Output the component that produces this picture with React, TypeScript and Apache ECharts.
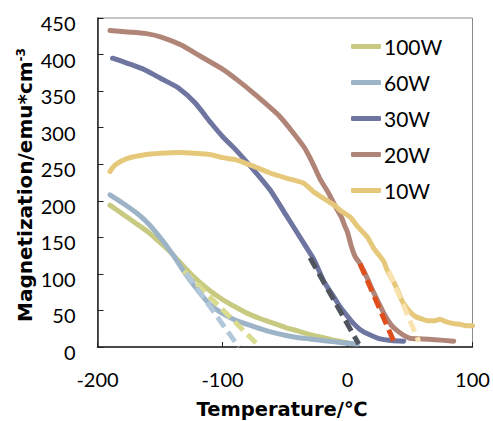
import React, { useEffect, useRef } from "react";
import * as echarts from "echarts";

const seriesNames = ["100W", "60W", "30W", "20W", "10W"];
const seriesColors = ["#C7CA80", "#9DB4C8", "#6D75A0", "#B08578", "#E6C87B"];
const fitColors = ["#D9DC8E", "#B3C8DA", "#50545F", "#E04E1B", "#F8E3AE"];

const xTicks = [-200, -100, 0, 100];
const xTitle = "Temperature/℃";
const yTitle = "Magnetization/emu*cm";
const yTitleSup = "-3";

const temp100W = [-190, -180, -170, -160, -150, -140, -130, -120, -110, -100, -90, -80, -70, -60, -50, -40, -30, -20, -10, 0];
const mag100W = [194, 182, 170, 158, 143, 127, 108, 91, 77, 65, 55, 46, 39, 33, 27, 22, 17, 13, 9, 6];

const temp60W = [-190, -180, -170, -160, -150, -140, -130, -120, -110, -100, -90, -80, -70, -60, -50, -40, -30, -20, -10, 0, 8];
const mag60W = [208, 197, 185, 170, 150, 127, 101, 78, 58, 46, 37, 31, 25, 20, 16, 13, 11, 9, 7, 5, 4];

const temp30W = [-188, -176, -162, -149, -135, -122, -109, -100, -89, -75, -62, -49, -35, -27, -19, -10, -6, 0, 5, 10, 16, 26, 35, 45];
const mag30W = [395, 388, 379, 367, 354, 334, 306, 288, 269, 242, 215, 180, 142, 120, 90, 66, 55, 42, 32, 24, 18, 11, 9, 8];

const temp20W = [-190, -176, -162, -149, -133, -117, -100, -88, -75, -54, -35, -28, -22, -15, -9, -5, -2, 0, 3, 6, 10, 15, 20, 25, 30, 35, 40, 45, 50, 60, 70, 85];
const mag20W = [433, 431, 429, 424, 413, 397, 380, 365, 347, 315, 274, 252, 230, 210, 190, 178, 165, 157, 138, 124, 114, 97, 78, 60, 43, 30, 22, 16, 12, 11, 10, 8];

const temp10W = [-190, -186, -176, -162, -149, -135, -122, -109, -100, -89, -75, -62, -49, -35, -27, -16, -9, -6, 2, 8, 16, 21, 26, 29, 32, 36, 40, 44, 50, 55, 60, 64, 70, 74, 78, 85, 90, 95, 100];
const mag10W = [240, 249, 258, 263, 265, 266, 265, 263, 259, 256, 247, 238, 231, 224, 212, 200, 192, 187, 178, 165, 150, 135, 124, 117, 104, 92, 78, 62, 48, 41, 38, 36, 36, 38, 35, 32, 31, 29, 29];

const fitTemp100W = [-131, -70];
const fitMag100W = [104, 0];
const fitTemp60W = [-129, -87];
const fitMag60W = [101, 0];
const fitTemp30W = [-30, 9];
const fitMag30W = [122, 4];
const fitTemp20W = [10, 38];
const fitMag20W = [114, 4];
const fitTemp10W = [33, 57];
const fitMag10W = [104, 8];

const solidTemps = [temp100W, temp60W, temp30W, temp20W, temp10W];
const solidMags = [mag100W, mag60W, mag30W, mag20W, mag10W];
const fitTemps = [fitTemp100W, fitTemp60W, fitTemp30W, fitTemp20W, fitTemp10W];
const fitMags = [fitMag100W, fitMag60W, fitMag30W, fitMag20W, fitMag10W];

const zip = (xs: number[], ys: number[]) => xs.map((x, i) => [x, ys[i]]);

const FONT = "Lato, 'Open Sans', sans-serif";
const NAME_FONT = "'DejaVu Sans', sans-serif";

export default function App() {
  const ref = useRef<HTMLDivElement>(null);
  useEffect(() => {
    if (!ref.current) return;
    const chart = echarts.init(ref.current, undefined, { renderer: "svg" });
    const solid = seriesNames.map((name, i) => ({
      name,
      type: "line",
      data: zip(solidTemps[i], solidMags[i]),
      symbol: "none",
      smooth: 0.2,
      z: 2 + i,
      lineStyle: { color: seriesColors[i], width: 5, cap: "round", join: "round" },
      itemStyle: { color: seriesColors[i] },
    }));
    const fits = seriesNames.map((name, i) => ({
      name: name + " fit",
      type: "line",
      data: zip(fitTemps[i], fitMags[i]),
      symbol: "none",
      z: 10,
      lineStyle: { color: fitColors[i], width: 5, type: [12, 6], cap: "butt" },
    }));
    chart.setOption({
      animation: false,
      backgroundColor: "#ffffff",
      grid: {
        left: 97.5,
        right: 20.5,
        top: 18,
        bottom: 74,
        show: true,
        borderColor: "#8a8a8a",
        borderWidth: 1,
        backgroundColor: "transparent",
      },
      legend: {
        data: seriesNames.map((n) => ({ name: n, icon: "roundRect" })),
        orient: "vertical",
        left: 346,
        top: 31,
        itemWidth: 30,
        itemHeight: 5,
        itemGap: 15,
        textStyle: { fontSize: 21, color: "#000", fontFamily: FONT, padding: [0, 0, 0, -2] },
      },
      graphic: [
        {
          type: "text",
          x: 282,
          y: 409,
          style: {
            text: xTitle,
            fontSize: 19.5,
            fontWeight: "bold",
            fontFamily: NAME_FONT,
            fill: "#000",
            align: "center",
            verticalAlign: "middle",
          },
        },
        {
          type: "text",
          x: 25,
          y: 185,
          rotation: Math.PI / 2,
          style: {
            text: "{b|" + yTitle + "}{s|" + yTitleSup + "}",
            align: "center",
            verticalAlign: "middle",
            rich: {
              b: { fontSize: 20, fontWeight: "bold", fill: "#000", fontFamily: NAME_FONT },
              s: { fontSize: 12, fontWeight: "bold", fill: "#000", fontFamily: NAME_FONT, verticalAlign: "top" },
            },
          },
        },
      ],
      xAxis: {
        type: "value",
        min: -200,
        max: 100,
        interval: 100,
        axisLine: { show: true, onZero: false, lineStyle: { color: "#222", width: 1.5 } },
        axisTick: { show: true, inside: true, length: 5, lineStyle: { color: "#222" } },
        axisLabel: {
          fontSize: 20,
          color: "#000",
          fontFamily: FONT,
          margin: 22,
          formatter: (v: number) => (xTicks.includes(v) ? String(v) : ""),
        },
        splitLine: { show: false },
      },
      yAxis: {
        type: "value",
        min: 0,
        max: 450,
        interval: 50,
        axisLine: { show: true, onZero: false, lineStyle: { color: "#222", width: 1.5 } },
        axisTick: { show: true, inside: true, length: 6, lineStyle: { color: "#222" } },
        axisLabel: { fontSize: 20, color: "#000", fontFamily: FONT, margin: 22, verticalAlign: "top", lineHeight: 10 },
        splitLine: { show: false },
      },
      series: [...solid, ...fits],
    });
    return () => chart.dispose();
  }, []);
  return (
    <div
      ref={ref}
      style={{ position: "fixed", left: 0, top: 0, width: 493, height: 421, background: "#fff" }}
    />
  );
}
